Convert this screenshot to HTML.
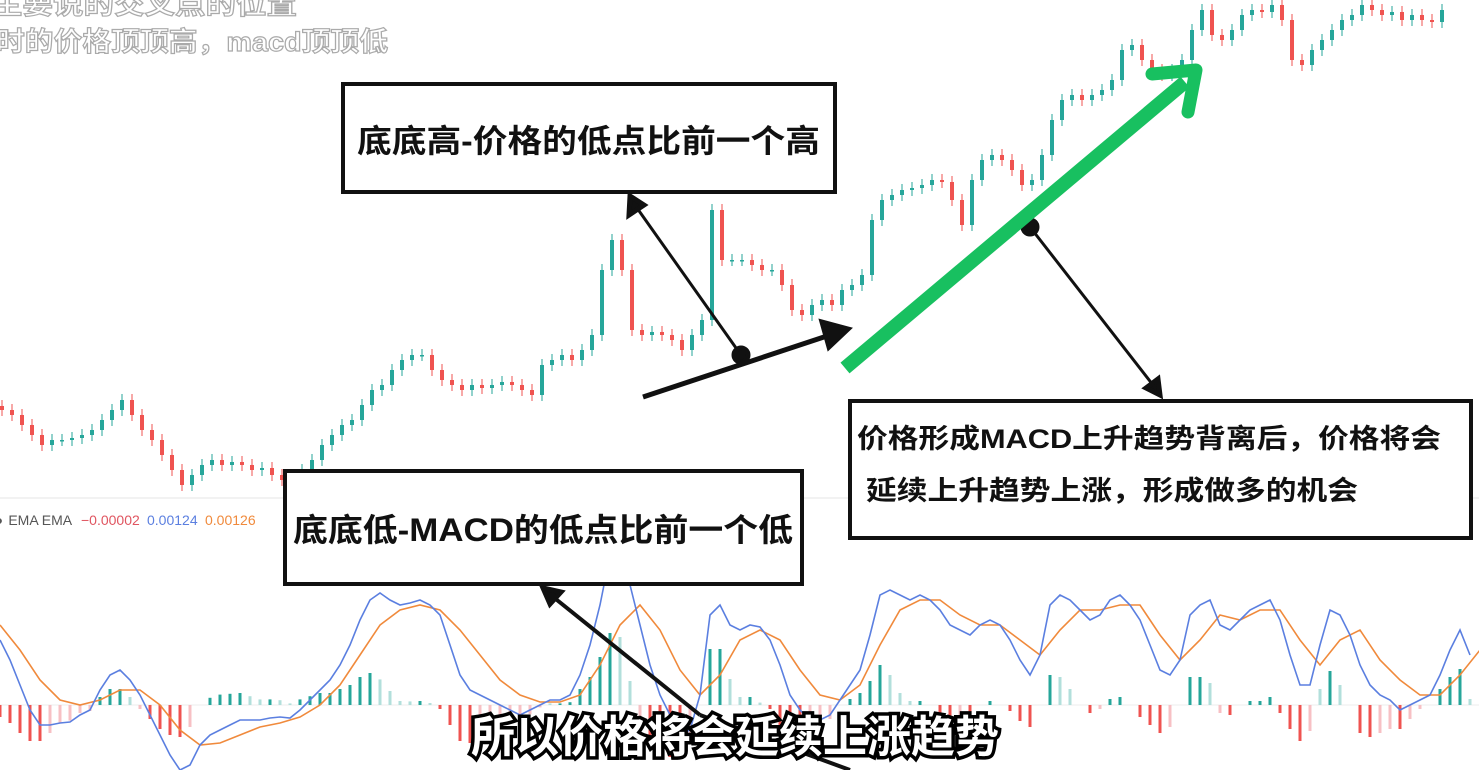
<!DOCTYPE html>
<html><head><meta charset="utf-8">
<style>
html,body{margin:0;padding:0;background:#fff;width:1479px;height:770px;overflow:hidden}
svg{display:block}
.cn{font-family:"Liberation Sans","Noto Sans CJK SC",sans-serif;font-weight:700}
</style></head><body>
<svg id="chart" width="1479" height="770" viewBox="0 0 1479 770">
<g id="candles"></g>
<line x1="0" y1="498" x2="1479" y2="498" stroke="#e6e6e6" stroke-width="1"/>
<line x1="0" y1="705" x2="1479" y2="705" stroke="#eeeeee" stroke-width="1"/>
<g id="hist"></g>
<path id="sigLine" fill="none" stroke="#f08a3c" stroke-width="1.6"/>
<path id="macdLine" fill="none" stroke="#5b7fe0" stroke-width="1.6"/>
<g font-family="Liberation Sans, sans-serif" font-size="14">
<text x="-4" y="525" fill="#555">◗ EMA EMA</text>
<text x="81" y="525" fill="#e05560">−0.00002</text>
<text x="147" y="525" fill="#5b7fe0">0.00124</text>
<text x="205" y="525" fill="#f08a3c">0.00126</text>
</g>
<g stroke="#111" stroke-width="5" fill="#111">
<line x1="643" y1="397" x2="830" y2="335"/>
<polygon points="848,329 822,322 829,347" />
<line x1="741" y1="355" x2="637" y2="208" stroke-width="3"/>
<polygon points="630,196 629,215 644,205"/>
<circle cx="741" cy="355" r="7"/>
<line x1="1030" y1="227" x2="1153" y2="385" stroke-width="3"/>
<polygon points="1160,395 1146,388 1158,379"/>
<circle cx="1030" cy="227" r="7"/>
<line x1="552" y1="596" x2="700" y2="715" stroke-width="4"/>
<polygon points="543,588 561,592 550,604"/>
<line x1="700" y1="715" x2="850" y2="770" stroke-width="4"/>
</g>
<g>
<line x1="845" y1="368" x2="1185" y2="82" stroke="#18c060" stroke-width="14"/>
<polyline points="1152,74 1196,70 1188,112" fill="none" stroke="#18c060" stroke-width="13" stroke-linejoin="round" stroke-linecap="round"/>
</g>
<g>
<rect x="343" y="84" width="492" height="108" fill="#fff" stroke="#111" stroke-width="4"/>
<text x="357" y="152" textLength="463" lengthAdjust="spacingAndGlyphs" class="cn" font-size="32" fill="#111">底底高-价格的低点比前一个高</text>
</g>
<g>
<rect x="285" y="471" width="517" height="113" fill="#fff" stroke="#111" stroke-width="4"/>
<text x="293" y="541" textLength="500" lengthAdjust="spacingAndGlyphs" class="cn" font-size="32" fill="#111">底底低-MACD的低点比前一个低</text>
</g>
<g>
<rect x="850" y="401" width="621" height="137" fill="#fff" stroke="#111" stroke-width="4"/>
<text x="857" y="448" textLength="584" lengthAdjust="spacingAndGlyphs" class="cn" font-size="27" fill="#111">价格形成MACD上升趋势背离后，价格将会</text>
<text x="866" y="500" textLength="492" lengthAdjust="spacingAndGlyphs" class="cn" font-size="27" fill="#111">延续上升趋势上涨，形成做多的机会</text>
</g>
<g class="cn" fill="#fff" stroke="#aaa" stroke-width="1.2">
<text x="-8" y="14" font-size="27" textLength="305" lengthAdjust="spacingAndGlyphs">主要说的交叉点的位置</text>
<text x="-4" y="51" font-size="27" textLength="392" lengthAdjust="spacingAndGlyphs">时的价格顶顶高，macd顶顶低</text>
</g>
<text x="735" y="752" text-anchor="middle" class="cn" font-size="44" fill="#fff" stroke="#000" stroke-width="7" paint-order="stroke">所以价格将会延续上涨趋势</text>
</svg>
<script>
const closes=[90,85,75,65,55,60,60,62,65,70,80,90,100,85,70,60,45,30,15,25,35,40,35,38,35,30,32,25,20,20,30,40,55,65,75,80,95,110,115,130,140,145,145,130,120,115,110,115,112,115,118,115,110,105,135,140,145,140,150,165,230,260,230,170,165,168,165,160,150,165,180,290,240,240,240,235,230,230,215,190,185,195,200,195,210,215,225,280,300,305,310,312,315,320,318,300,275,320,340,345,340,330,315,320,345,380,400,405,400,405,410,420,450,455,440,430,425,430,440,470,490,465,460,470,485,490,488,495,480,440,435,450,460,470,480,485,495,490,485,488,480,485,480,478,490];
const macdVals=[65,45,20,-5,-20,-20,-18,-17,-10,-5,15,30,35,25,10,-10,-30,-50,-65,-60,-40,-30,-25,-20,-15,-15,-15,-13,-12,-13,-5,5,15,25,40,60,85,105,112,105,100,102,105,100,90,60,30,15,10,5,0,-5,-10,-5,0,5,5,10,30,60,100,150,165,120,80,40,10,-10,-30,-25,10,90,100,80,75,80,78,65,40,10,-5,-15,-15,-10,5,20,35,70,110,115,110,105,110,105,95,80,75,70,80,85,80,65,45,30,50,100,110,105,95,85,90,105,110,100,85,60,35,30,45,90,100,105,80,75,85,95,100,105,85,50,20,20,60,95,90,70,40,20,10,5,-5,0,5,10,30,55,75,50];
const signalVals=[80,55,25,5,0,5,15,15,0,-25,-40,-38,-30,-22,-18,-12,0,20,50,80,95,100,95,75,50,25,10,3,3,10,40,80,100,75,35,10,30,65,75,65,35,10,5,20,60,95,105,105,90,80,80,65,50,75,95,95,100,100,70,45,65,90,85,95,95,65,40,65,75,45,25,10,10,30,55];
const NS='http://www.w3.org/2000/svg';
const px=i=>2+i*10, py=p=>500-p;
const mx=i=>i*10, sx=i=>i*20, my=v=>705-v;
const cg=document.getElementById('candles');
closes.forEach((c,i)=>{
  const o=i?closes[i-1]:c+4;
  const up=c>=o, col=up?'#26a69a':'#ef5350';
  const top=py(Math.max(o,c)), bot=py(Math.min(o,c));
  const w=document.createElementNS(NS,'line');
  w.setAttribute('x1',px(i));w.setAttribute('x2',px(i));
  w.setAttribute('y1',top-6);w.setAttribute('y2',bot+6);
  w.setAttribute('stroke',col);w.setAttribute('stroke-width','1');
  
  
  cg.appendChild(w);
  const r=document.createElementNS(NS,'rect');
  r.setAttribute('x',px(i)-2);r.setAttribute('y',top);
  r.setAttribute('width',4);r.setAttribute('height',Math.max(1.5,bot-top));
  r.setAttribute('fill',col);
  
  
  cg.appendChild(r);
});
function sigAt(x){const f=x/20,i=Math.floor(f),t=f-i;const a=signalVals[Math.min(i,signalVals.length-1)],b=signalVals[Math.min(i+1,signalVals.length-1)];return a+(b-a)*t;}
const hg=document.getElementById('hist');
let prev=0;
macdVals.forEach((v,i)=>{
  const h=(v-sigAt(mx(i)))*0.8;
  const pos=h>=0, grow=Math.abs(h)>=Math.abs(prev);
  const col=pos?(grow?'#26a69a':'#b2dfdb'):(grow?'#ef5350':'#f7c0c4');
  prev=h;
  const r=document.createElementNS(NS,'rect');
  r.setAttribute('x',mx(i)-1.5);r.setAttribute('y',pos?705-h:705);
  r.setAttribute('width',3);r.setAttribute('height',Math.abs(h));
  r.setAttribute('fill',col);
  
  
  hg.appendChild(r);
});
document.getElementById('macdLine').setAttribute('d',macdVals.map((v,i)=>(i?'L':'M')+mx(i)+','+my(v)).join(''));
document.getElementById('sigLine').setAttribute('d',signalVals.map((v,i)=>(i?'L':'M')+sx(i)+','+my(v)).join(''));
</script>
</body></html>
